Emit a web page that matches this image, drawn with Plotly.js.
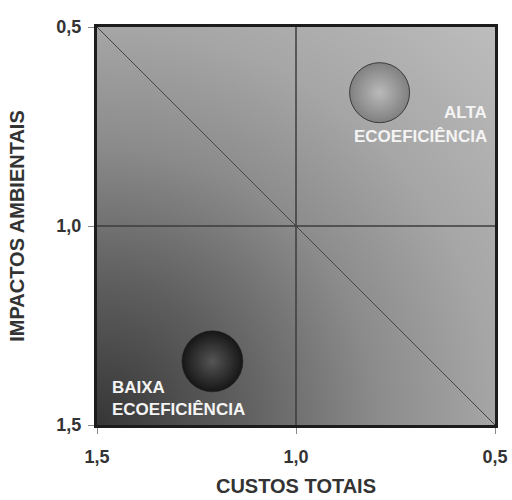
<!DOCTYPE html>
<html>
<head>
<meta charset="utf-8">
<script src="https://cdn.plot.ly/plotly-3.0.1.min.js"></script>
<style>html,body{margin:0;padding:0;background:#fff;}#chart{width:512px;height:500px;}</style>
</head>
<body>
<div id="chart"></div>
<script>
// Data
const custosTotais = [0.79, 1.21];          // x: CUSTOS TOTAIS
const impactosAmbientais = [0.665, 1.34];   // y: IMPACTOS AMBIENTAIS
const pontoNomes = ['Alta ecoeficiência', 'Baixa ecoeficiência'];
const tickVals = [1.5, 1.0, 0.5];
const tickText = ['1,5', '1,0', '0,5'];
const yTickText = ['1,5', '1,0', '0,5'];
const diagX = [1.5, 0.5];
const diagY = [0.5, 1.5];

// Background gradient (decoration) drawn on a canvas
function makeBg() {
  const c = document.createElement('canvas');
  const W = 400, H = 400;
  c.width = W; c.height = H;
  const g = c.getContext('2d');
  const R = Math.sqrt(2) * W;
  const grad = g.createRadialGradient(0, H, 0, 0, H, R);
  grad.addColorStop(0.0, '#363636');
  grad.addColorStop(0.25, '#5e5e5e');
  grad.addColorStop(0.5, '#8c8c8c');
  grad.addColorStop(0.707, '#a6a6a6');
  grad.addColorStop(1.0, '#bdbdbd');
  g.fillStyle = grad;
  g.fillRect(0, 0, W, H);
  return c.toDataURL('image/png');
}

const font = 'Liberation Sans, Arial, sans-serif';

const traces = [
  {
    x: diagX, y: diagY, mode: 'lines', type: 'scatter',
    line: {color: '#454545', width: 1}, hoverinfo: 'skip', showlegend: false
  },
  {
    x: [custosTotais[0]], y: [impactosAmbientais[0]], name: pontoNomes[0],
    mode: 'markers', type: 'scatter', showlegend: false,
    marker: {size: 60, color: '#808080',
      gradient: {type: 'radial', color: '#bababa'},
      line: {color: '#3a3a3a', width: 1}}
  },
  {
    x: [custosTotais[1]], y: [impactosAmbientais[1]], name: pontoNomes[1],
    mode: 'markers', type: 'scatter', showlegend: false,
    marker: {size: 61, color: '#161616',
      gradient: {type: 'radial', color: '#555555'},
      line: {color: '#1a1a1a', width: 0.5}}
  }
];

const layout = {
  width: 512, height: 500,
  margin: {l: 97, r: 17, t: 27, b: 75},
  paper_bgcolor: '#ffffff',
  plot_bgcolor: 'rgba(0,0,0,0)',
  showlegend: false,
  xaxis: {
    range: [1.5, 0.5], tickvals: tickVals, ticktext: tickText,
    showgrid: false, zeroline: false,
    showline: true, linewidth: 3, linecolor: '#1c1c1c', mirror: true,
    ticks: 'outside', ticklen: 6, tickcolor: '#888', tickwidth: 1,
    ticklabelstandoff: 7,
    tickfont: {family: font, size: 18, color: '#333', weight: 'bold'},
    title: {text: 'CUSTOS TOTAIS', font: {family: font, size: 20, color: '#333', weight: 'bold'}, standoff: 14},
    fixedrange: true
  },
  yaxis: {
    range: [1.5, 0.5], tickvals: tickVals, ticktext: yTickText,
    showgrid: false, zeroline: false,
    showline: true, linewidth: 3, linecolor: '#1c1c1c', mirror: true,
    ticks: 'outside', ticklen: 6, tickcolor: '#888', tickwidth: 1,
    ticklabelstandoff: 3,
    tickfont: {family: font, size: 18, color: '#333', weight: 'bold'},
    title: {text: 'IMPACTOS AMBIENTAIS', font: {family: font, size: 20, color: '#333', weight: 'bold'}, standoff: 27},
    fixedrange: true
  },
  shapes: [
    {type: 'line', xref: 'x', yref: 'paper', x0: 1.0, x1: 1.0, y0: 0, y1: 1,
     line: {color: '#3c3c3c', width: 1.5}, layer: 'below'},
    {type: 'line', xref: 'paper', yref: 'y', x0: 0, x1: 1, y0: 1.0, y1: 1.0,
     line: {color: '#3c3c3c', width: 1.5}, layer: 'below'}
  ],
  images: [
    {source: makeBg(), xref: 'paper', yref: 'paper', x: 0, y: 1, sizex: 1, sizey: 1,
     xanchor: 'left', yanchor: 'top', sizing: 'stretch', layer: 'below'}
  ],
  annotations: [
    {text: 'ALTA', x: 0.515, y: 0.714, xref: 'x', yref: 'y', xanchor: 'right', yanchor: 'middle',
     showarrow: false, font: {family: font, size: 17, color: '#f4f4f4', weight: 'bold'}},
    {text: 'ECOEFICIÊNCIA', x: 0.515, y: 0.776, xref: 'x', yref: 'y', xanchor: 'right', yanchor: 'middle',
     showarrow: false, font: {family: font, size: 17, color: '#f4f4f4', weight: 'bold'}},
    {text: 'BAIXA', x: 1.467, y: 1.405, xref: 'x', yref: 'y', xanchor: 'left', yanchor: 'middle',
     showarrow: false, font: {family: font, size: 17, color: '#f4f4f4', weight: 'bold'}},
    {text: 'ECOEFICIÊNCIA', x: 1.467, y: 1.462, xref: 'x', yref: 'y', xanchor: 'left', yanchor: 'middle',
     showarrow: false, font: {family: font, size: 17, color: '#f4f4f4', weight: 'bold'}}
  ]
};

Plotly.newPlot('chart', traces, layout, {displayModeBar: false, staticPlot: true});
</script>
</body>
</html>
